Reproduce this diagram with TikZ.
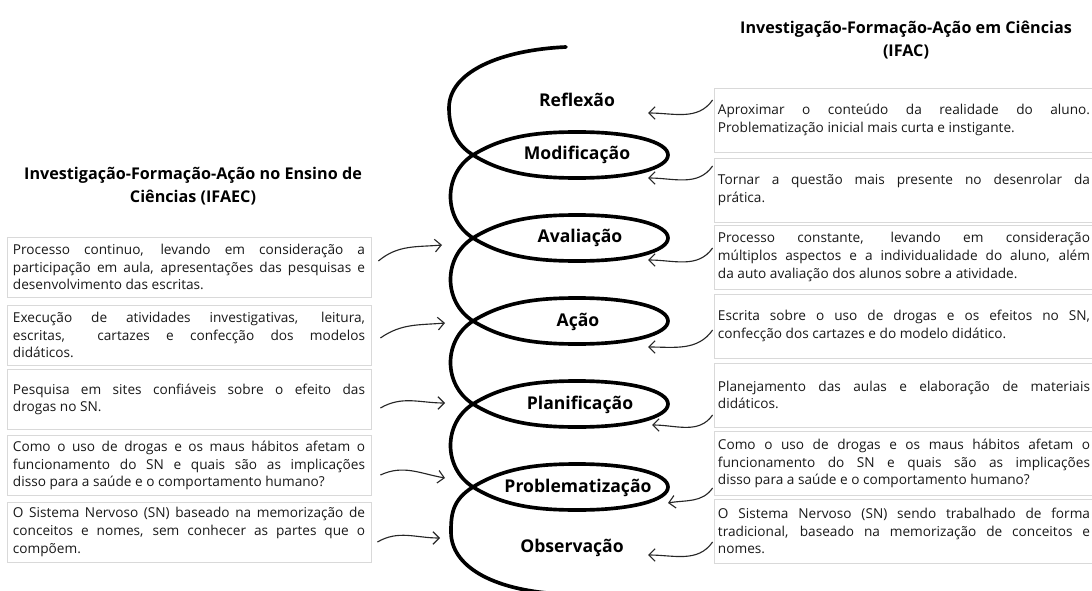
\documentclass[tikz,border=0pt]{standalone}
\usepackage{fontspec}
\setmainfont{Open Sans}
\usetikzlibrary{arrows.meta}

\tikzset{
  helix/.style={line width=2.6pt, line cap=round, line join=round},
  stage/.style={font=\fontsize{12.5}{15}\selectfont\bfseries},
  heading/.style={font=\fontsize{11.5}{16}\selectfont\bfseries, align=center},
  textbox/.style={draw=black!15, line width=0.5pt, fill=white, align=justify, inner ysep=2pt,
    font=\fontsize{9.7}{12.6}\selectfont, text=black!90},
  leftbox/.style={textbox, text width=8.8cm, inner xsep=0.15cm, minimum height=1.5cm},
  rightbox/.style={textbox, text width=9.3cm, inner xsep=0.1cm, minimum height=1.6cm},
  arr/.style={-{Straight Barb[length=4.5pt,width=9pt]}, line width=0.8pt, black!85}
}

\begin{document}
\begin{tikzpicture}[x=0.025cm, y=0.025cm]
  \useasboundingbox (0,0) rectangle (1092,-591);

  % Helix
  \draw[helix] (566,-47) .. controls (500,-50) and (449,-72) .. (449,-108)
    .. controls (449,-133) and (460,-147) .. (473,-155)
    .. controls (505,-175) and (540,-178) .. (578,-178)
    .. controls (632,-178) and (668,-168) .. (668,-155)
    .. controls (668,-142) and (632,-132) .. (578,-132)
    .. controls (540,-132) and (505,-135) .. (473,-155)
    .. controls (443,-174) and (443,-219) .. (473,-238)
    .. controls (505,-258) and (540,-261) .. (578,-261)
    .. controls (632,-261) and (668,-251) .. (668,-238)
    .. controls (668,-225) and (632,-215) .. (578,-215)
    .. controls (540,-215) and (505,-218) .. (473,-238)
    .. controls (443,-257) and (443,-302) .. (473,-321)
    .. controls (505,-341) and (540,-344) .. (578,-344)
    .. controls (632,-344) and (668,-334) .. (668,-321)
    .. controls (668,-308) and (632,-298) .. (578,-298)
    .. controls (540,-298) and (505,-301) .. (473,-321)
    .. controls (443,-340) and (443,-385) .. (473,-404)
    .. controls (505,-424) and (540,-427) .. (578,-427)
    .. controls (632,-427) and (668,-417) .. (668,-404)
    .. controls (668,-391) and (632,-381) .. (578,-381)
    .. controls (540,-381) and (505,-384) .. (473,-404)
    .. controls (443,-423) and (443,-468) .. (473,-487)
    .. controls (505,-507) and (540,-510) .. (578,-510)
    .. controls (632,-510) and (668,-500) .. (668,-487)
    .. controls (668,-474) and (632,-464) .. (578,-464)
    .. controls (540,-464) and (505,-467) .. (473,-487)
    .. controls (452,-500) and (451,-515) .. (451,-532)
    .. controls (451,-565) and (490,-590) .. (560,-594);

  % Stages
  \node[stage] (ref) at (577,-100) {Reflexão};
  \node[stage] (mod) at (577,-155) {Modificação};
  \node[stage] (ava) at (580,-238) {Avaliação};
  \node[stage] (aca) at (578,-322) {Ação};
  \node[stage] (pla) at (580,-405) {Planificação};
  \node[stage] (pro) at (578,-488) {Problematização};
  \node[stage] (obs) at (572,-548) {Observação};

  % Titles
  \node[heading] (ifaec) at (193,-186) {Investigação-Formação-Ação no Ensino de\\Ciências (IFAEC)};
  \node[heading] (ifac) at (906,-40) {Investigação-Formação-Ação em Ciências\\(IFAC)};

  % IFAEC boxes
  \node[leftbox] (eAva) at (189,-267) {Processo continuo, levando em consideração a\linebreak participação em aula, apresentações das pesquisas e\linebreak desenvolvimento das escritas.};
  \node[leftbox] (eAca) at (189,-335) {Execução de atividades investigativas, leitura,\linebreak escritas,\ \ cartazes e confecção dos modelos\linebreak didáticos.};
  \node[leftbox] (ePla) at (189,-399.5) {Pesquisa em sites confiáveis sobre o efeito das\linebreak drogas no SN.};
  \node[leftbox] (ePro) at (189,-465.5) {Como o uso de drogas e os maus hábitos afetam o\linebreak funcionamento do SN e quais são as implicações\linebreak disso para a saúde e o comportamento humano?};
  \node[leftbox] (eObs) at (189,-532) {O Sistema Nervoso (SN) baseado na memorização de\linebreak conceitos e nomes, sem conhecer as partes que o\linebreak compõem.};

  % IFAC boxes
  \node[rightbox] (cRef) at (904,-120) {Aproximar o conteúdo da realidade do aluno.\linebreak Problematização inicial mais curta e instigante.};
  \node[rightbox] (cMod) at (904,-190) {Tornar a questão mais presente no desenrolar da\linebreak prática.};
  \node[rightbox] (cAva) at (904,-257) {Processo constante, levando em consideração\linebreak múltiplos aspectos e a individualidade do aluno, além\linebreak da auto avaliação dos alunos sobre a atividade.};
  \node[rightbox] (cAca) at (904,-326) {Escrita sobre o uso de drogas e os efeitos no SN,\linebreak confecção dos cartazes e do modelo didático.};
  \node[rightbox] (cPla) at (904,-395) {Planejamento das aulas e elaboração de materiais\linebreak didáticos.};
  \node[rightbox] (cPro) at (904,-463.5) {Como o uso de drogas e os maus hábitos afetam o\linebreak funcionamento do SN e quais são as implicações\linebreak disso para a saúde e o comportamento humano?};
  \node[rightbox] (cObs) at (904,-531) {O Sistema Nervoso (SN) sendo trabalhado de forma\linebreak tradicional, baseado na memorização de conceitos e\linebreak nomes.};

  % Arrow ends on the helix
  \coordinate (avaW) at (442,-245);
  \coordinate (acaW) at (445,-323);
  \coordinate (plaW) at (445,-403);
  \coordinate (proW) at (445,-478);
  \coordinate (obsW) at (440,-538);
  \coordinate (refE) at (648,-113);
  \coordinate (modE) at (648,-178);
  \coordinate (avaE) at (648,-260);
  \coordinate (acaE) at (648,-347);
  \coordinate (plaE) at (652,-425);
  \coordinate (proE) at (668,-503);
  \coordinate (obsE) at (648,-555);

  % Arrows
  \draw[arr] ([shift={(7,6)}]eAva.east) to[out=40, in=185] (avaW);
  \draw[arr] ([shift={(9,-3)}]eAca.east) to[out=35, in=185] (acaW);
  \draw[arr] ([shift={(9,-8.5)}]ePla.east) to[out=30, in=180] (plaW);
  \draw[arr] ([shift={(9,-9.5)}]ePro.east) to[out=25, in=170] (proW);
  \draw[arr] ([shift={(6,-10)}]eObs.east) to[out=30, in=180] (obsW);
  \draw[arr] ([shift={(-1,20)}]cRef.west) to[out=235, in=0] (refE);
  \draw[arr] ([shift={(-1,24)}]cMod.west) to[out=235, in=0] (modE);
  \draw[arr] ([shift={(-1,9)}]cAva.west) to[out=235, in=0] (avaE);
  \draw[arr] ([shift={(-1,-4)}]cAca.west) to[out=235, in=0] (acaE);
  \draw[arr] ([shift={(-1,-20)}]cPla.west) to[out=235, in=0] (plaE);
  \draw[arr] ([shift={(-1,-24.5)}]cPro.west) to[out=235, in=10] (proE);
  \draw[arr] ([shift={(-1,-11)}]cObs.west) to[out=235, in=0] (obsE);
\end{tikzpicture}
\end{document}
